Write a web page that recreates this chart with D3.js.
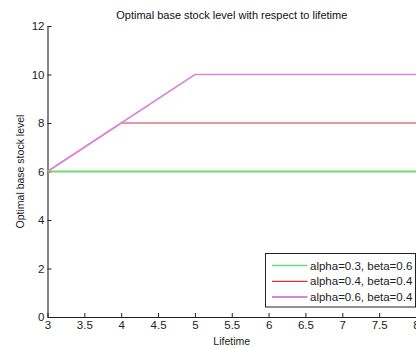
<!DOCTYPE html>
<html>
<head>
<meta charset="utf-8">
<script src="https://cdn.jsdelivr.net/npm/d3@7"></script>
<style>
  html, body { margin: 0; padding: 0; background: #fff; }
  svg { display: block; font-family: "Liberation Sans", Arial, sans-serif; }
</style>
</head>
<body>
<svg id="chart" width="416" height="348"></svg>
<script>
// Lifetime values (x) and optimal base stock level per parameter set
const lifetime = [3, 4, 5, 6, 7, 8];
const seriesNames = ["alpha=0.3, beta=0.6", "alpha=0.4, beta=0.4", "alpha=0.6, beta=0.4"];
const levelA = [6, 6, 6, 6, 6, 6];
const levelB = [6, 8, 8, 8, 8, 8];
const levelC = [6, 8, 10, 10, 10, 10];
const xTicks = [3, 3.5, 4, 4.5, 5, 5.5, 6, 6.5, 7, 7.5, 8];
const yTicks = [0, 2, 4, 6, 8, 10, 12];

const colors = ["#72da72", "#c43a34", "#d986d9"];
const widths = [2, 1.2, 1.6];
const legendWidths = [1.3, 1.2, 2];

const svg = d3.select("#chart");
const plotL = 47.5, plotR = 416, plotT = 26, plotB = 317;

const x = d3.scaleLinear().domain([3, 8]).range([plotL, plotR]);
const y = d3.scaleLinear().domain([0, 12]).range([plotB, plotT]);

const fontSize = 11.5;

// Title
svg.append("text")
  .attr("x", (plotL + plotR) / 2).attr("y", 19)
  .attr("text-anchor", "middle")
  .attr("font-size", 11)
  .attr("fill", "#111")
  .text("Optimal base stock level with respect to lifetime");

// Axes (ticks point inward)
const xAxis = svg.append("g").attr("transform", `translate(0,${plotB})`)
  .call(d3.axisBottom(x).tickValues(xTicks).tickSizeInner(-4).tickSizeOuter(0)
    .tickFormat(d3.format("")));
const yAxis = svg.append("g").attr("transform", `translate(${plotL},0)`)
  .call(d3.axisLeft(y).tickValues(yTicks).tickSizeInner(-4).tickSizeOuter(0));

[xAxis, yAxis].forEach(g => {
  g.select(".domain").attr("stroke", "#222").attr("stroke-width", 1.1);
  g.selectAll(".tick line").attr("stroke", "#222");
  g.selectAll(".tick text").attr("fill", "#222").attr("font-size", fontSize)
    .attr("font-family", "Liberation Sans, Arial, sans-serif");
});
xAxis.selectAll(".tick text").attr("y", 4).attr("dy", "0.71em");
yAxis.selectAll(".tick text").attr("x", -3);

// Axis labels
svg.append("text")
  .attr("x", (plotL + plotR) / 2).attr("y", 345)
  .attr("text-anchor", "middle")
  .attr("font-size", 10.5).attr("fill", "#222")
  .text("Lifetime");
svg.append("text")
  .attr("transform", `translate(24,${(plotT + plotB) / 2}) rotate(-90)`)
  .attr("text-anchor", "middle")
  .attr("font-size", 10.5).attr("fill", "#222")
  .text("Optimal base stock level");

// Series lines
const series = [levelA, levelB, levelC];
const line = d3.line().x((d, i) => x(lifetime[i])).y(d => y(d));
series.forEach((vals, k) => {
  svg.append("path")
    .datum(vals)
    .attr("d", line)
    .attr("fill", "none")
    .attr("stroke", colors[k])
    .attr("stroke-width", widths[k]);
});

// Legend
const lg = svg.append("g");
lg.append("rect")
  .attr("x", 265.5).attr("y", 253.5)
  .attr("width", 150).attr("height", 53.5)
  .attr("fill", "#fff").attr("stroke", "#222").attr("stroke-width", 1);
seriesNames.forEach((name, k) => {
  const ry = 265.5 + k * 15.8;
  lg.append("line")
    .attr("x1", 272).attr("x2", 307.5)
    .attr("y1", ry).attr("y2", ry)
    .attr("stroke", colors[k]).attr("stroke-width", legendWidths[k]);
  lg.append("text")
    .attr("x", 310).attr("y", ry).attr("dy", "0.35em")
    .attr("font-size", fontSize).attr("fill", "#222")
    .text(name);
});
</script>
</body>
</html>
